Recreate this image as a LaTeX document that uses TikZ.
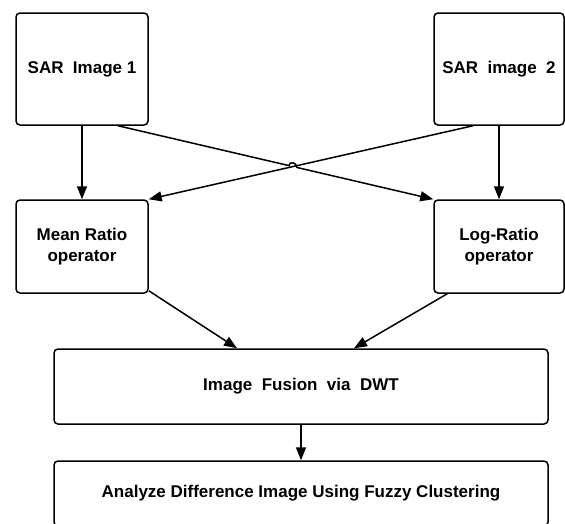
\documentclass[tikz,border=0pt]{standalone}
\usepackage{fontspec}
\setmainfont{Liberation Sans}
\usetikzlibrary{arrows.meta,calc}

\begin{document}
\begin{tikzpicture}[x=1pt, y=-1pt,
	block/.style={draw, line width=1.5pt, rounded corners=4pt, align=center,
		font=\fontsize{17}{21}\selectfont\bfseries, inner sep=0pt},
	arr/.style={line width=1.5pt, -{Triangle[length=13pt,width=10pt]}}]
	\useasboundingbox (0, 0) rectangle (565, 523);

	\node[block, minimum width=132, minimum height=112] (sar1) at (82, 69) {SAR\ \ Image 1};
	\node[block, minimum width=130, minimum height=112] (sar2) at (499, 69) {SAR\ \ image\ \ 2};

	\node[block, minimum width=132, minimum height=93] (mean) at (82, 246.5) {Mean Ratio\\operator};
	\node[block, minimum width=130, minimum height=93] (log) at (499, 246.5) {Log-Ratio\\operator};

	\node[block, minimum width=494, minimum height=75] (fusion) at (301, 386.5) {Image\ \ Fusion\ \ via\ \ DWT};
	\node[block, minimum width=494, minimum height=65] (analyze) at (301, 493.5) {Analyze Difference Image Using Fuzzy Clustering};

	\draw[arr] (sar1) -- (mean);
	\draw[arr] (sar2) -- (log);

	% crossing lines, one hops over the other
	\coordinate (a1) at ($(sar1.south)+(36, 0)$);
	\coordinate (b1) at ($(sar2.south)+(-26, 0)$);
	\coordinate (x) at (intersection of a1--log.north west and b1--mean.north east);
	\coordinate (h1) at ($(x)!4pt!(a1)$);
	\coordinate (h2) at ($(x)!4pt!(log.north west)$);

	\draw[arr] (b1) -- (mean.north east);
	\draw[arr] (a1) -- (h1) .. controls ($(h1)+(0, -5)$) and ($(h2)+(0, -5)$) .. (h2) -- (log.north west);

	\draw[arr] ($(mean.south east)+(0, -3)$) -- ($(fusion.north)+(-64, 0)$);
	\draw[arr] ($(log.south west)+(14, 0)$) -- ($(fusion.north)+(53, 0)$);

	\draw[arr] (fusion) -- (analyze);

\end{tikzpicture}
\end{document}
